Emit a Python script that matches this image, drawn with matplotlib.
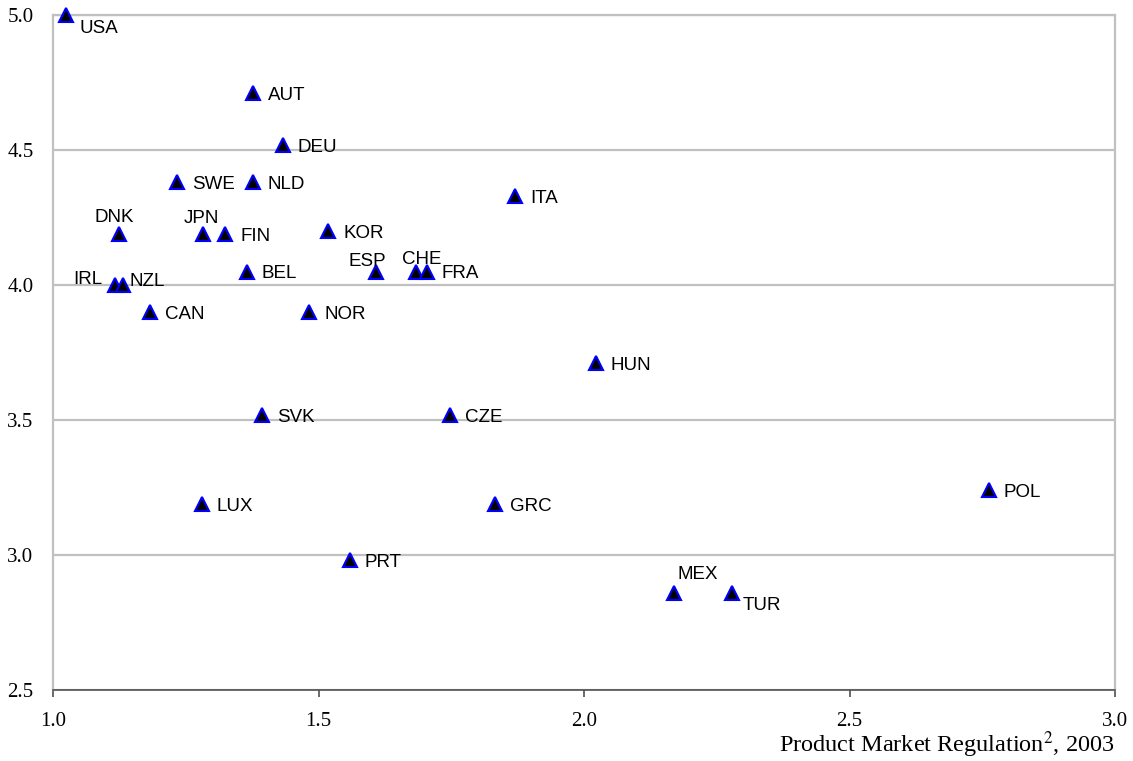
import matplotlib
matplotlib.use("Agg")
import matplotlib.pyplot as plt

# data
countries = ['USA', 'AUT', 'DEU', 'SWE', 'NLD', 'ITA', 'DNK', 'JPN', 'FIN', 'KOR',
             'BEL', 'ESP', 'CHE', 'FRA', 'IRL', 'NZL', 'CAN', 'NOR', 'HUN', 'SVK',
             'CZE', 'POL', 'LUX', 'GRC', 'PRT', 'MEX', 'TUR']
pmr = [1.024, 1.377, 1.433, 1.234, 1.376, 1.870, 1.125, 1.283, 1.324, 1.518,
       1.365, 1.608, 1.684, 1.704, 1.117, 1.132, 1.183, 1.483, 2.022, 1.394,
       1.748, 2.762, 1.280, 1.832, 1.559, 2.169, 2.279]
score = [5.00, 4.71, 4.52, 4.38, 4.38, 4.33, 4.19, 4.19, 4.19, 4.20,
         4.05, 4.05, 4.05, 4.05, 4.00, 4.00, 3.90, 3.90, 3.71, 3.52,
         3.52, 3.24, 3.19, 3.19, 2.98, 2.86, 2.86]

xticks = [1.0, 1.5, 2.0, 2.5, 3.0]
yticks = [2.5, 3.0, 3.5, 4.0, 4.5, 5.0]

# label placement (pixel offsets from marker, baseline aligned)
default_off = (15, -7, 'left')
label_off = {
    'USA': (14, -18, 'left'),
    'DNK': (-5, 12, 'center'),
    'JPN': (-2, 11, 'center'),
    'IRL': (-13, 1, 'right'),
    'NZL': (6, -1, 'left'),
    'ESP': (-9, 5, 'center'),
    'CHE': (6, 7, 'center'),
    'MEX': (4, 14, 'left'),
    'TUR': (10, -17, 'left'),
}

plt.rcParams['mathtext.fontset'] = 'stix'

fig = plt.figure(figsize=(11.33, 7.61), dpi=100)
ax = fig.add_axes([53 / 1133, 1 - 690 / 761, (1115 - 53) / 1133, (690 - 15) / 761])

ax.set_xlim(1.0, 3.0)
ax.set_ylim(2.5, 5.0)
ax.set_xticks(xticks)
ax.set_yticks(yticks)
ax.set_xticklabels([f'{v:.1f}' for v in xticks], family='Liberation Serif', fontsize=15)
ax.set_yticklabels([f'{v:.1f}' for v in yticks], family='Liberation Serif', fontsize=15)
ax.tick_params(axis='x', direction='out', length=5, width=1.2, color='#505050', pad=11)
ax.tick_params(axis='y', length=0, pad=14)

ax.grid(axis='y', color='#c0c0c0', linewidth=1.6)
ax.set_axisbelow(True)
for side in ['left', 'top', 'right']:
    ax.spines[side].set_color('#c0c0c0')
    ax.spines[side].set_linewidth(1.6)
ax.spines['bottom'].set_color('#505050')
ax.spines['bottom'].set_linewidth(1.2)

ax.plot(pmr, score, linestyle='none', marker='^', markersize=9.5,
        markerfacecolor='black', markeredgecolor='#0000ff', markeredgewidth=1.5,
        clip_on=False, zorder=3)

for name, x, y in zip(countries, pmr, score):
    dx, dy, ha = label_off.get(name, default_off)
    ax.annotate(name, (x, y), xytext=(dx, dy), textcoords='offset pixels',
                ha=ha, va='baseline', fontsize=13.5, family='Liberation Sans')

fig.text(1115 / 1133, 1 - 745 / 761, 'Product Market Regulation$^{2}$, 2003',
         ha='right', va='center', family='Liberation Serif', fontsize=17.5)

fig.savefig('out.png', dpi=100)
